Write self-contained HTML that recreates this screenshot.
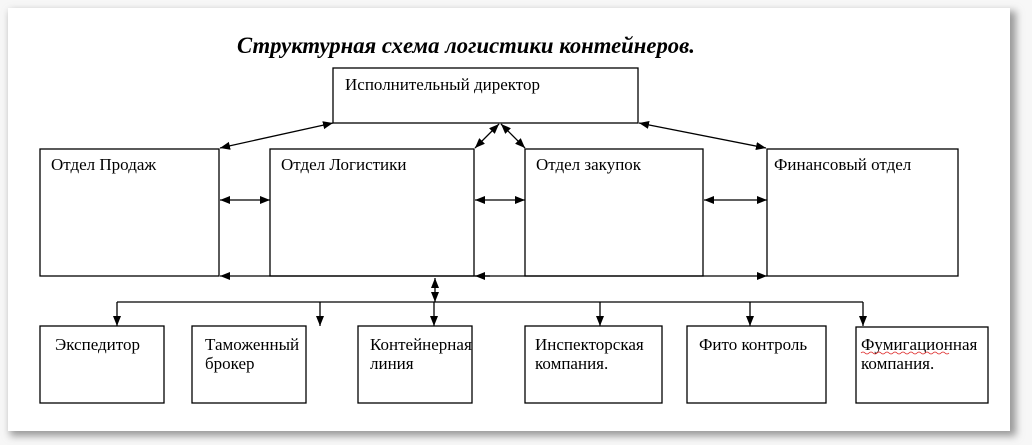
<!DOCTYPE html>
<html><head><meta charset="utf-8"><style>
body{margin:0;background:#fff;}
svg{display:block;}
text{font-family:"Liberation Serif",serif;font-size:17px;fill:#000;}
</style></head><body>
<svg width="1032" height="445" viewBox="0 0 1032 445">
<defs>
<filter id="sh" x="-5%" y="-5%" width="110%" height="115%"><feGaussianBlur stdDeviation="4"/></filter>
<marker id="a" viewBox="0 0 10 10" refX="10" refY="5" markerWidth="10" markerHeight="10" orient="auto-start-reverse" markerUnits="userSpaceOnUse"><path d="M0,1L10,5L0,9z" fill="#000"/></marker>
</defs>
<rect x="0" y="0" width="1032" height="445" fill="#f7f7f7"/>
<rect x="10" y="11" width="1006" height="425" fill="#999" filter="url(#sh)"/>
<rect x="8" y="8" width="1002" height="423" fill="#fff"/>
<text x="237" y="53" style="font-size:22.7px;font-weight:bold;font-style:italic">Структурная схема логистики контейнеров.</text>
<g fill="none" stroke="#000" stroke-width="1.3">
<rect x="333" y="68" width="305" height="55"/>
<rect x="40" y="149" width="179" height="127"/>
<rect x="270" y="149" width="204" height="127"/>
<rect x="525" y="149" width="178" height="127"/>
<rect x="767" y="149" width="191" height="127"/>
<rect x="40" y="326" width="124" height="77"/>
<rect x="192" y="326" width="114" height="77"/>
<rect x="358" y="326" width="114" height="77"/>
<rect x="525" y="326" width="137" height="77"/>
<rect x="687" y="326" width="139" height="77"/>
<rect x="856" y="327" width="132" height="76"/>
<line x1="333" y1="123" x2="220" y2="148" marker-start="url(#a)" marker-end="url(#a)"/>
<line x1="639" y1="123" x2="766" y2="148" marker-start="url(#a)" marker-end="url(#a)"/>
<line x1="499" y1="124" x2="475" y2="148" marker-start="url(#a)" marker-end="url(#a)"/>
<line x1="501" y1="124" x2="525" y2="148" marker-start="url(#a)" marker-end="url(#a)"/>
<line x1="220" y1="200" x2="270" y2="200" marker-start="url(#a)" marker-end="url(#a)"/>
<line x1="475" y1="200" x2="525" y2="200" marker-start="url(#a)" marker-end="url(#a)"/>
<line x1="704" y1="200" x2="767" y2="200" marker-start="url(#a)" marker-end="url(#a)"/>
<line x1="220" y1="276" x2="767" y2="276" marker-start="url(#a)" marker-end="url(#a)"/>
<line x1="475" y1="276" x2="490" y2="276" marker-start="url(#a)"/>
<line x1="435" y1="278" x2="435" y2="302" marker-start="url(#a)" marker-end="url(#a)"/>
<line x1="117" y1="302" x2="863" y2="302"/>
<line x1="117" y1="302" x2="117" y2="326" marker-end="url(#a)"/>
<line x1="320" y1="302" x2="320" y2="326" marker-end="url(#a)"/>
<line x1="434" y1="302" x2="434" y2="326" marker-end="url(#a)"/>
<line x1="600" y1="302" x2="600" y2="326" marker-end="url(#a)"/>
<line x1="750" y1="302" x2="750" y2="326" marker-end="url(#a)"/>
<line x1="863" y1="302" x2="863" y2="326" marker-end="url(#a)"/>
</g>
<text x="345" y="90">Исполнительный  директор</text>
<text x="51" y="170">Отдел Продаж</text>
<text x="281" y="170">Отдел Логистики</text>
<text x="536" y="170">Отдел закупок</text>
<text x="774" y="170">Финансовый отдел</text>
<text x="55" y="350">Экспедитор</text>
<text x="205" y="350">Таможенный</text>
<text x="205" y="369">брокер</text>
<text x="370" y="350">Контейнерная</text>
<text x="370" y="369">линия</text>
<text x="535" y="350">Инспекторская</text>
<text x="535" y="369">компания.</text>
<text x="699" y="350">Фито контроль</text>
<text x="861" y="350">Фумигационная</text>
<text x="861" y="369">компания.</text>
<path d="M861,353 q2,-2 4,0 t4,0 t4,0 t4,0 t4,0 t4,0 t4,0 t4,0 t4,0 t4,0 t4,0 t4,0 t4,0 t4,0 t4,0 t4,0 t4,0 t4,0 t4,0 t4,0 t4,0 t4,0" stroke="#d22" stroke-width="0.8" fill="none"/>
</svg>
</body></html>
